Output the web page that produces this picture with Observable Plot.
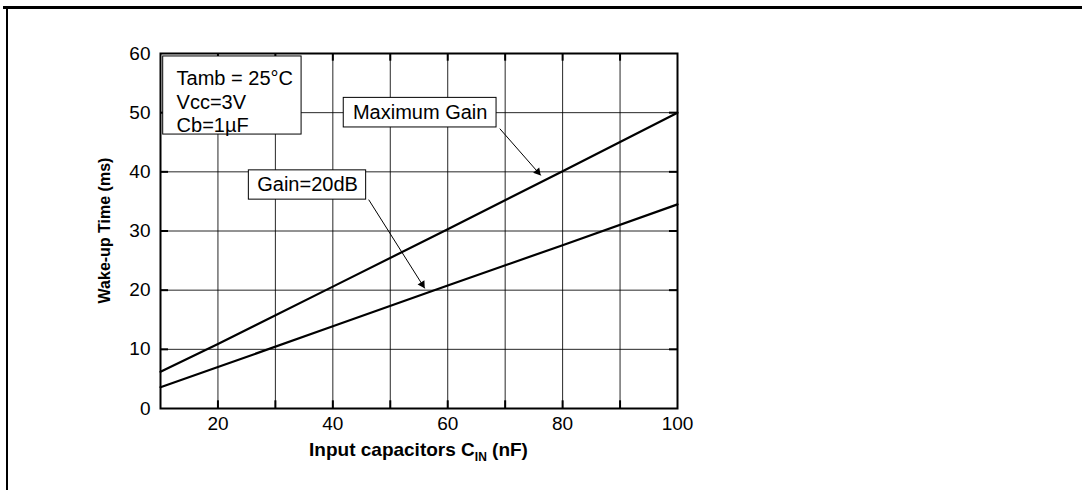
<!DOCTYPE html>
<html><head><meta charset="utf-8">
<script src="https://cdn.jsdelivr.net/npm/d3@7"></script>
<script src="https://cdn.jsdelivr.net/npm/@observablehq/plot@0.6"></script>
<style>
html,body{margin:0;padding:0;background:#fff;}
#wrap{position:relative;width:1082px;height:490px;overflow:hidden;background:#fff;}
#chart{position:absolute;left:0;top:0;}
#topline{position:absolute;left:3px;top:6px;width:1079px;height:3px;background:#000;}
#leftline{position:absolute;left:6px;top:6px;width:2px;height:484px;background:#000;}
</style></head><body>
<div id="wrap"><div id="chart"></div><div id="topline"></div><div id="leftline"></div></div>
<script>
// ---- data ----
const capacitance = [10, 20, 40, 60, 80, 100];           // nF
const maxGain     = [6.2, 10.9, 20.6, 30.3, 40.1, 50.0];  // ms
const gain20dB    = [3.6, 7.0, 13.9, 20.8, 27.6, 34.5];   // ms
const seriesNames = ["Maximum Gain", "Gain=20dB"];
const xTicks = [20, 40, 60, 80, 100];
const yTicks = [0, 10, 20, 30, 40, 50, 60];
const xGrid  = [20, 30, 40, 50, 60, 70, 80, 90];
const yGrid  = [10, 20, 30, 40, 50];
const xTitle = ["Input capacitors C", "IN", " (nF)"];
const yTitle = "Wake-up Time (ms)";
const conditions = "Tamb = 25°C\nVcc=3V\nCb=1µF";

// annotation boxes / labels / arrows, in data units
const boxes = [
  {x1: 10.47, x2: 34.56, y1: 59.5, y2: 46.3},
  {x1: 41.9,  x2: 68.5,  y1: 52.5, y2: 47.5},
  {x1: 25.38, x2: 45.8,  y1: 40.25, y2: 35.3}
];
const labels = [
  {x: 55.2, y: 50.0, text: seriesNames[0]},
  {x: 35.6, y: 37.77, text: seriesNames[1]}
];
const condLabel = [{x: 12.8, y: 57.57, text: conditions}];
const arrows = [
  {x1: 69.06, y1: 47.3, x2: 76.2, y2: 39.4},
  {x1: 46.24, y1: 35.3, x2: 56.0, y2: 20.3}
];

const rows = capacitance.flatMap((c, i) => [
  {c, t: maxGain[i], s: seriesNames[0]},
  {c, t: gain20dB[i], s: seriesNames[1]}
]);

const W = 1082, H = 490;
const chart = Plot.plot({
  width: W, height: H,
  marginLeft: 160, marginRight: W - 677, marginTop: 53, marginBottom: H - 408,
  style: {fontFamily: "'Liberation Sans', Arial, sans-serif", fontSize: "19px", color: "#000", background: "transparent", overflow: "visible"},
  x: {domain: [10, 100], ticks: xTicks, tickSize: 0, tickPadding: 8, label: null},
  y: {domain: [0, 60], ticks: yTicks, tickSize: 0, tickPadding: 10, label: null},
  marks: [
    Plot.ruleX(xGrid, {stroke: "#000", strokeWidth: 1, strokeOpacity: 0.85}),
    Plot.ruleY(yGrid, {stroke: "#000", strokeWidth: 1, strokeOpacity: 0.85}),
    // inward ticks
    Plot.ruleX(xGrid, {y1: 0, y2: 1.3, stroke: "#000", strokeWidth: 2}),
    Plot.ruleX(xGrid, {y1: 60, y2: 58.7, stroke: "#000", strokeWidth: 2}),
    Plot.ruleY(yGrid, {x1: 10, x2: 11.4, stroke: "#000", strokeWidth: 2}),
    Plot.ruleY(yGrid, {x1: 100, x2: 98.6, stroke: "#000", strokeWidth: 2}),
    Plot.line(rows, {x: "c", y: "t", z: "s", stroke: "#000", strokeWidth: 2.2}),
    Plot.frame({stroke: "#000", strokeWidth: 2}),
    Plot.rect(boxes, {x1: "x1", x2: "x2", y1: "y1", y2: "y2", fill: "#fff", stroke: "#000", strokeWidth: 1}),
    Plot.text(labels, {x: "x", y: "y", text: "text", fontSize: 20, fill: "#000"}),
    Plot.text(condLabel, {x: "x", y: "y", text: "text", fontSize: 20, fill: "#000", textAnchor: "start", lineAnchor: "top", lineHeight: 1.19}),
    Plot.link(arrows, {x1: "x1", y1: "y1", x2: "x2", y2: "y2", stroke: "#000", strokeWidth: 1}),
    // filled arrow heads
    Plot.dot([arrows[0]], {x: "x2", y: "y2", symbol: "triangle", r: 3, fill: "#000", stroke: null, rotate: 138.8, dx: -3.1, dy: -3.5}),
    Plot.dot([arrows[1]], {x: "x2", y: "y2", symbol: "triangle", r: 3, fill: "#000", stroke: null, rotate: 147.8, dx: -2.5, dy: -4.0})
  ]
});
document.getElementById("chart").appendChild(chart);

// axis titles (bold, with subscript)
const svg = d3.select(chart);
const xt = svg.append("text")
  .attr("x", (160 + 677) / 2).attr("y", 456)
  .attr("text-anchor", "middle")
  .attr("font-family", "'Liberation Sans', Arial, sans-serif")
  .attr("font-weight", "bold").attr("font-size", 19).attr("fill", "#000");
xt.append("tspan").text(xTitle[0]);
xt.append("tspan").attr("font-size", 12).attr("dy", 5).text(xTitle[1]);
xt.append("tspan").attr("dy", -5).text(xTitle[2]);
svg.append("text")
  .attr("transform", `translate(104,${(53 + 408) / 2}) rotate(-90)`)
  .attr("text-anchor", "middle").attr("dominant-baseline", "central")
  .attr("font-family", "'Liberation Sans', Arial, sans-serif")
  .attr("font-weight", "bold").attr("font-size", 16).attr("fill", "#000")
  .text(yTitle);
</script>
</body></html>
